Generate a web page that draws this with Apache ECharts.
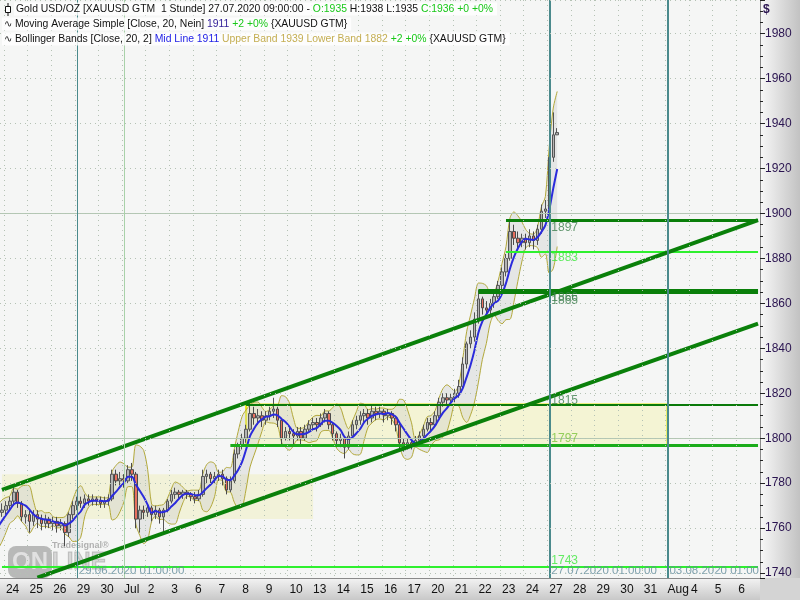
<!DOCTYPE html>
<html>
<head>
<meta charset="utf-8">
<script src="https://cdn.jsdelivr.net/npm/echarts@6/dist/echarts.min.js"></script>
<style>
  html, body { margin: 0; padding: 0; background: #d6d6d6; }
  #chart-container { width: 800px; height: 600px; }
</style>
</head>
<body>
<div id="chart-container"></div>
<script>
const hours = ["01", "05", "09", "13", "17", "21"];
const days = [
  "23.06", "24.06", "25.06", "26.06", "29.06", "30.06", "01.07", "02.07", "03.07",
  "06.07", "07.07", "08.07", "09.07", "10.07", "13.07", "14.07", "15.07", "16.07",
  "17.07", "20.07", "21.07", "22.07", "23.07", "24.07", "27.07", "28.07", "29.07",
  "30.07", "31.07", "03.08", "04.08", "05.08", "06.08",
];
const dayLabels = [
  "23", "24", "25", "26", "29", "30", "Jul", "2", "3",
  "6", "7", "8", "9", "10", "13", "14", "15", "16",
  "17", "20", "21", "22", "23", "24", "27", "28", "29",
  "30", "31", "Aug", "4", "5", "6",
];

// 4-hour bars [open, close, low, high]
const candles = [
  // 23.06 (warm-up, only the last bar is visible)
  [1753, 1755, 1750, 1757], [1755, 1757, 1753, 1759], [1757, 1760, 1755, 1762],
  [1760, 1764, 1758, 1766], [1764, 1767, 1762, 1769], [1767, 1768, 1765, 1771],
  // 24.06
  [1768, 1770, 1766, 1772], [1770, 1772, 1768, 1774], [1772, 1776, 1770, 1779],
  [1776, 1771, 1769, 1777], [1771, 1765, 1763, 1772], [1765, 1766, 1762, 1768],
  // 25.06
  [1766, 1763, 1758, 1768], [1763, 1766, 1761, 1768], [1766, 1764, 1760, 1768],
  [1764, 1762, 1759, 1766], [1762, 1764, 1760, 1766], [1764, 1762, 1760, 1765],
  // 26.06
  [1762, 1763, 1759, 1765], [1763, 1761, 1758, 1765], [1761, 1762, 1759, 1764],
  [1762, 1758, 1752, 1763], [1758, 1766, 1756, 1767], [1766, 1770, 1764, 1772],
  // 29.06
  [1770, 1772, 1768, 1774], [1772, 1771, 1769, 1774], [1771, 1773, 1769, 1775],
  [1773, 1772, 1770, 1775], [1772, 1773, 1770, 1775], [1773, 1772, 1770, 1774],
  // 30.06
  [1772, 1771, 1769, 1774], [1771, 1772, 1769, 1774], [1772, 1773, 1770, 1775],
  [1773, 1784, 1772, 1786], [1784, 1781, 1779, 1786], [1781, 1782, 1779, 1785],
  // 01.07
  [1782, 1781, 1778, 1784], [1781, 1786, 1780, 1788], [1786, 1784, 1781, 1789],
  [1784, 1764, 1760, 1785], [1764, 1768, 1758, 1770], [1768, 1767, 1764, 1770],
  // 02.07
  [1767, 1769, 1765, 1771], [1769, 1766, 1763, 1770], [1766, 1768, 1764, 1770],
  [1768, 1765, 1762, 1769], [1765, 1768, 1757, 1769], [1768, 1772, 1767, 1773],
  // 03.07
  [1772, 1775, 1771, 1777], [1775, 1776, 1773, 1778], [1776, 1775, 1773, 1777],
  [1775, 1776, 1773, 1777], [1776, 1775, 1773, 1777], [1775, 1774, 1772, 1776],
  // 06.07
  [1774, 1773, 1771, 1776], [1773, 1775, 1772, 1777], [1775, 1783, 1774, 1786],
  [1783, 1784, 1780, 1786], [1784, 1782, 1779, 1785], [1782, 1783, 1780, 1785],
  // 07.07
  [1783, 1784, 1781, 1786], [1784, 1782, 1779, 1786], [1782, 1777, 1775, 1783],
  [1777, 1781, 1776, 1783], [1781, 1793, 1780, 1795], [1793, 1797, 1791, 1798],
  // 08.07
  [1797, 1800, 1795, 1802], [1800, 1804, 1798, 1806], [1804, 1811, 1803, 1816],
  [1811, 1809, 1806, 1814], [1809, 1810, 1806, 1813], [1810, 1808, 1805, 1812],
  // 09.07
  [1808, 1810, 1806, 1812], [1810, 1812, 1808, 1814], [1812, 1813, 1809, 1818],
  [1813, 1808, 1805, 1814], [1808, 1800, 1797, 1809], [1800, 1803, 1799, 1805],
  // 10.07
  [1803, 1802, 1799, 1805], [1802, 1801, 1797, 1804], [1801, 1803, 1799, 1805],
  [1803, 1800, 1797, 1805], [1800, 1804, 1799, 1806], [1804, 1806, 1803, 1808],
  // 13.07
  [1806, 1807, 1804, 1809], [1807, 1806, 1803, 1809], [1806, 1809, 1805, 1811],
  [1809, 1811, 1807, 1813], [1811, 1806, 1804, 1812], [1806, 1802, 1799, 1807],
  // 14.07
  [1802, 1799, 1796, 1803], [1799, 1800, 1796, 1802], [1800, 1796, 1791, 1801],
  [1796, 1801, 1795, 1803], [1801, 1806, 1800, 1808], [1806, 1808, 1804, 1810],
  // 15.07
  [1808, 1810, 1806, 1812], [1810, 1811, 1807, 1813], [1811, 1809, 1806, 1813],
  [1809, 1812, 1807, 1815], [1812, 1811, 1808, 1814], [1811, 1812, 1809, 1814],
  // 16.07
  [1812, 1810, 1807, 1813], [1810, 1811, 1808, 1813], [1811, 1809, 1806, 1812],
  [1809, 1806, 1803, 1810], [1806, 1798, 1795, 1807], [1798, 1797, 1794, 1800],
  // 17.07
  [1797, 1798, 1795, 1800], [1798, 1797, 1795, 1800], [1797, 1799, 1796, 1801],
  [1799, 1801, 1797, 1803], [1801, 1804, 1800, 1806], [1804, 1807, 1803, 1809],
  // 20.07
  [1807, 1806, 1803, 1809], [1806, 1810, 1805, 1812], [1810, 1816, 1809, 1818],
  [1816, 1818, 1814, 1820], [1818, 1817, 1815, 1820], [1817, 1818, 1815, 1820],
  // 21.07
  [1818, 1820, 1816, 1822], [1820, 1823, 1818, 1826], [1823, 1833, 1822, 1836],
  [1833, 1842, 1831, 1843], [1842, 1845, 1840, 1848], [1845, 1853, 1843, 1856],
  // 22.07
  [1853, 1862, 1851, 1866], [1862, 1858, 1855, 1863], [1858, 1857, 1854, 1861],
  [1857, 1860, 1855, 1862], [1860, 1863, 1858, 1865], [1863, 1868, 1862, 1870],
  // 23.07
  [1868, 1874, 1866, 1876], [1874, 1880, 1872, 1882], [1880, 1892, 1879, 1897],
  [1892, 1889, 1886, 1895], [1889, 1887, 1884, 1892], [1887, 1889, 1885, 1891],
  // 24.07
  [1889, 1887, 1884, 1891], [1887, 1890, 1885, 1893], [1890, 1888, 1884, 1892],
  [1888, 1893, 1886, 1895], [1893, 1901, 1891, 1904], [1901, 1902, 1898, 1906],
  // 27.07
  [1902, 1925, 1900, 1928], [1925, 1935, 1923, 1945], [1935, 1936, 1935, 1938],
];

const levelValues = [1897, 1883, 1866, 1865, 1815, 1797, 1743];
const levelStarts = ["23.07 05:00", "23.07 05:00", "22.07 01:00", "22.07 01:00", "08.07 05:00", "07.07 13:00", "23.06 21:00"];
const roundLevels = [1900, 1800];

const channelFrom = ["23.06 21:00", "25.06 09:00"];
const channelFromValue = [1777, 1738];
const channelTo = ["06.08 21:00", "06.08 21:00"];
const channelToValue = [1897, 1851];

const boxFrom = ["08.07 05:00", "23.06 21:00"];
const boxTo = ["03.08 01:00", "13.07 01:00"];
const boxTop = [1815, 1784];
const boxBottom = [1797, 1764];

const markerTimes = ["29.06 01:00", "01.07 01:00", "27.07 01:00", "03.08 01:00"];
const markerTexts = ["29.06.2020 01:00:00", "", "27.07.2020 01:00:00", "03.08.2020 01:00:00"];
const labelAnchor = "27.07 01:00";

const categories = [];
days.forEach((d) => hours.forEach((h) => categories.push(d + " " + h + ":00")));
const ix = (name) => categories.indexOf(name);
const lastIx = categories.length - 1;

// moving average and bollinger bands, 5 x 4h = 20 hours
const period = 5;
const closes = candles.map((c) => c[1]);
const mid = [];
const upper = [];
const lower = [];
closes.forEach((c, i) => {
  if (i < period - 1) {
    mid.push("-");
    upper.push("-");
    lower.push("-");
    return;
  }
  const win = closes.slice(i - period + 1, i + 1);
  const m = win.reduce((a, b) => a + b, 0) / period;
  const sd = Math.sqrt(win.reduce((a, b) => a + (b - m) * (b - m), 0) / (period - 1));
  mid.push(m);
  upper.push(m + 2 * sd);
  lower.push(m - 2 * sd);
});
const bandWidth = upper.map((u, i) => (u === "-" ? "-" : u - lower[i]));

// styles
const levelStyle = {
  1897: { color: "#0a7f0a", width: 3, text: "#3f7f4f", dy: 7 },
  1883: { color: "#2ef02e", width: 2, text: "#3fe83f", dy: 6 },
  1866: { color: "#0a7f0a", width: 3, text: "#3f7f4f", dy: 8 },
  1865: { color: "#0a7f0a", width: 3, text: "#3f7f4f", dy: 9 },
  1815: { color: "#0a7a0a", width: 2, text: "#3f7f4f", dy: -4 },
  1797: { color: "#1aac1a", width: 3, text: "#7cc43c", dy: -6 },
  1743: { color: "#2ef02e", width: 2, text: "#3fe83f", dy: -6 },
};
const markerStyle = [
  { color: "#4a8a8c", width: 1 },
  { color: "#a9d2a9", width: 1 },
  { color: "#4a8a8c", width: 2 },
  { color: "#4a8a8c", width: 2 },
];
const boxStyle = [
  { color: "rgba(243,243,200,0.75)", borderColor: "#eaea10", borderWidth: 2 },
  { color: "rgba(242,242,214,0.9)", borderWidth: 0 },
];

const isDayStart = (index, value) => value.endsWith("01:00");
const font = "Liberation Sans";
const headFont = "10.4px " + font;

const dom = document.getElementById("chart-container");
const myChart = echarts.init(dom, null, { renderer: "canvas" });

const option = {
  animation: false,
  backgroundColor: "#d6d6d6",
  grid: {
    left: 0,
    right: 40,
    top: 0,
    bottom: 22,
    show: true,
    backgroundColor: "#f5f6f5",
    borderWidth: 0,
  },
  xAxis: {
    type: "category",
    data: categories,
    min: 5,
    boundaryGap: true,
    z: 10,
    axisLine: { lineStyle: { color: "#8a8a8a" } },
    axisTick: { interval: isDayStart, length: 4, lineStyle: { color: "#222" } },
    axisLabel: {
      interval: isDayStart,
      formatter: (value) => dayLabels[days.indexOf(value.slice(0, 5))],
      align: "left",
      margin: 6,
      color: "#111",
      fontSize: 12,
      fontFamily: font,
    },
    splitLine: { show: true, interval: isDayStart, lineStyle: { color: "#b4c2b4", type: [1, 4] } },
  },
  yAxis: {
    type: "value",
    position: "right",
    min: 1737.8,
    max: 1995,
    minInterval: 20,
    maxInterval: 20,
    z: 10,
    axisLine: { show: true, lineStyle: { color: "#8a8a8a" } },
    axisTick: { show: true, length: 5, lineStyle: { color: "#222" } },
    minorTick: { show: true, splitNumber: 4, length: 3, lineStyle: { color: "#222" } },
    axisLabel: {
      margin: 5,
      color: "#2a1450",
      fontSize: 12,
      fontFamily: font,
      formatter: (v) => String(v),
      showMinLabel: false,
      showMaxLabel: false,
    },
    splitLine: { lineStyle: { color: "#b4c2b4", type: [1, 4] } },
  },
  graphic: [
    {
      type: "rect", z: 8, silent: true,
      shape: { x: 760, y: 0, width: 40, height: 578 },
      style: { fill: new echarts.graphic.LinearGradient(0, 0, 1, 0, [
        { offset: 0, color: "#f8f8f8" }, { offset: 1, color: "#c2c2c2" }]) },
    },
    {
      type: "rect", z: 8, silent: true,
      shape: { x: 0, y: 578, width: 760, height: 22 },
      style: { fill: new echarts.graphic.LinearGradient(0, 0, 0, 1, [
        { offset: 0, color: "#f3f3f3" }, { offset: 1, color: "#c8c8c8" }]) },
    },
    {
      type: "rect", z: 8, silent: true,
      shape: { x: 760, y: 578, width: 40, height: 22 },
      style: { fill: "#d4d4d4" },
    },
    {
      type: "text", z: 11, x: 763, y: 4,
      style: { text: "$", font: "bold 12px " + font, fill: "#2a1450" },
    },
    // watermark
    {
      type: "rect", z: 1, silent: true,
      shape: { x: 8, y: 546, width: 44, height: 32, r: 8 },
      style: { fill: "rgba(110,110,110,0.45)" },
    },
    {
      type: "text", z: 1, x: 12, y: 550, silent: true,
      style: { text: "ON", font: "bold 24px " + font, fill: "rgba(235,235,235,0.8)" },
    },
    {
      type: "text", z: 1, x: 52, y: 550, silent: true,
      style: { text: "LINE", font: "bold 24px " + font, fill: "rgba(160,160,160,0.35)", stroke: "rgba(120,120,120,0.4)", lineWidth: 1 },
    },
    {
      type: "text", z: 1, x: 52, y: 541, silent: true,
      style: { text: "Tradesignal®", font: "bold 9px " + font, fill: "rgba(130,130,130,0.6)" },
    },
    // header
    {
      type: "group", z: 20, x: 4, y: 3,
      children: [
        { type: "line", z: 20, shape: { x1: 4, y1: 0, x2: 4, y2: 13 }, style: { stroke: "#111", lineWidth: 1 } },
        { type: "rect", z: 20, shape: { x: 1.5, y: 3.5, width: 5, height: 6 }, style: { fill: "#fff", stroke: "#111", lineWidth: 1 } },
      ],
    },
    {
      type: "text", z: 19, x: 14, y: 9,
      style: {
        text: "Gold USD/OZ [XAUUSD GTM  1 Stunde] 27.07.2020 09:00:00 - {g|O:1935} H:1938 L:1935 {g|C:1936 +0 +0%}",
        font: headFont, fill: "#111", verticalAlign: "middle",
        backgroundColor: "rgba(255,255,255,0.8)", padding: [2, 4, 1, 2],
        rich: { g: { fill: "#18c818", font: headFont } },
      },
    },
    {
      type: "text", z: 19, x: 2, y: 24,
      style: {
        text: "∿ Moving Average Simple [Close, 20, Nein] {p|1911} {g|+2 +0%} {XAUUSD GTM}",
        font: headFont, fill: "#111", verticalAlign: "middle",
        backgroundColor: "rgba(255,255,255,0.8)", padding: [2, 4, 1, 2],
        rich: { p: { fill: "#35229a", font: headFont }, g: { fill: "#18c818", font: headFont } },
      },
    },
    {
      type: "text", z: 19, x: 2, y: 39,
      style: {
        text: "∿ Bollinger Bands [Close, 20, 2] {b|Mid Line 1911} {o|Upper Band 1939 Lower Band 1882} {g|+2 +0%} {XAUUSD GTM}",
        font: headFont, fill: "#111", verticalAlign: "middle",
        backgroundColor: "rgba(255,255,255,0.8)", padding: [2, 4, 1, 2],
        rich: {
          b: { fill: "#2222e6", font: headFont },
          o: { fill: "#c4ae52", font: headFont },
          g: { fill: "#18c818", font: headFont },
        },
      },
    },
  ],
  series: [
    {
      name: "boxes",
      type: "line",
      data: [],
      z: 1,
      markArea: {
        silent: true,
        data: boxFrom.map((f, i) => [
          { xAxis: ix(f), yAxis: boxTop[i], itemStyle: boxStyle[i] },
          { xAxis: ix(boxTo[i]), yAxis: boxBottom[i] },
        ]),
      },
      markLine: {
        silent: true,
        symbol: ["none", "none"],
        label: { show: false },
        lineStyle: { color: "#b4c8b4", width: 1, type: "solid" },
        data: roundLevels.map((v) => ({ yAxis: v })),
      },
    },
    {
      name: "Lower Band",
      type: "line",
      data: lower,
      stack: "bb",
      smooth: 0.3,
      symbol: "none",
      z: 2,
      lineStyle: { color: "#b2a83a", width: 1 },
    },
    {
      name: "Upper Band",
      type: "line",
      data: bandWidth,
      stack: "bb",
      smooth: 0.3,
      symbol: "none",
      z: 2,
      lineStyle: { color: "#b2a83a", width: 1 },
      areaStyle: { color: "rgba(200,200,200,0.5)" },
    },
    {
      name: "Gold",
      type: "candlestick",
      data: candles,
      z: 3,
      barWidth: 3,
      itemStyle: {
        color: "#b4b4b4",
        color0: "#e8705f",
        borderColor: "#555",
        borderColor0: "#4a4a4a",
        borderWidth: 1,
      },
    },
    {
      name: "Mid Line",
      type: "line",
      data: mid,
      smooth: 0.3,
      symbol: "none",
      z: 4,
      lineStyle: { color: "#2b2bdc", width: 2 },
    },
    {
      name: "lines",
      type: "line",
      data: [],
      z: 5,
      markLine: {
        silent: true,
        symbol: ["none", "none"],
        label: { show: false },
        data: [
          ...levelValues.map((v, i) => [
            { coord: [ix(levelStarts[i]), v], lineStyle: { color: levelStyle[v].color, width: levelStyle[v].width, type: "solid" } },
            { coord: [lastIx, v] },
          ]),
          ...channelFrom.map((f, i) => [
            { coord: [ix(f), channelFromValue[i]], lineStyle: { color: "#0a800a", width: 4, type: "solid" } },
            { coord: [ix(channelTo[i]), channelToValue[i]] },
          ]),
          ...markerTimes.map((t, i) => ({
            xAxis: ix(t),
            lineStyle: { color: markerStyle[i].color, width: markerStyle[i].width, type: "solid" },
          })),
        ],
      },
    },
    {
      name: "labels",
      type: "scatter",
      symbolSize: 0,
      z: 6,
      silent: true,
      data: [
        ...levelValues.map((v) => ({
          value: [ix(labelAnchor), v],
          label: {
            show: true, position: "right", distance: 2, offset: [0, levelStyle[v].dy],
            formatter: String(v), color: levelStyle[v].text, fontSize: 12, fontFamily: font,
            textShadowColor: "rgba(0,0,0,0.35)", textShadowOffsetX: 1, textShadowOffsetY: 1, textShadowBlur: 0,
          },
        })),
        ...markerTimes
          .map((t, i) => ({ t, text: markerTexts[i] }))
          .filter((m) => m.text)
          .map((m) => ({
            value: [ix(m.t), 1741],
            label: {
              show: true, position: "right", distance: 2,
              formatter: m.text, color: "#5e8a9a", fontSize: 11.5, fontFamily: font,
            },
          })),
      ],
    },
  ],
};

myChart.setOption(option);
window.addEventListener("resize", myChart.resize);
</script>
</body>
</html>
